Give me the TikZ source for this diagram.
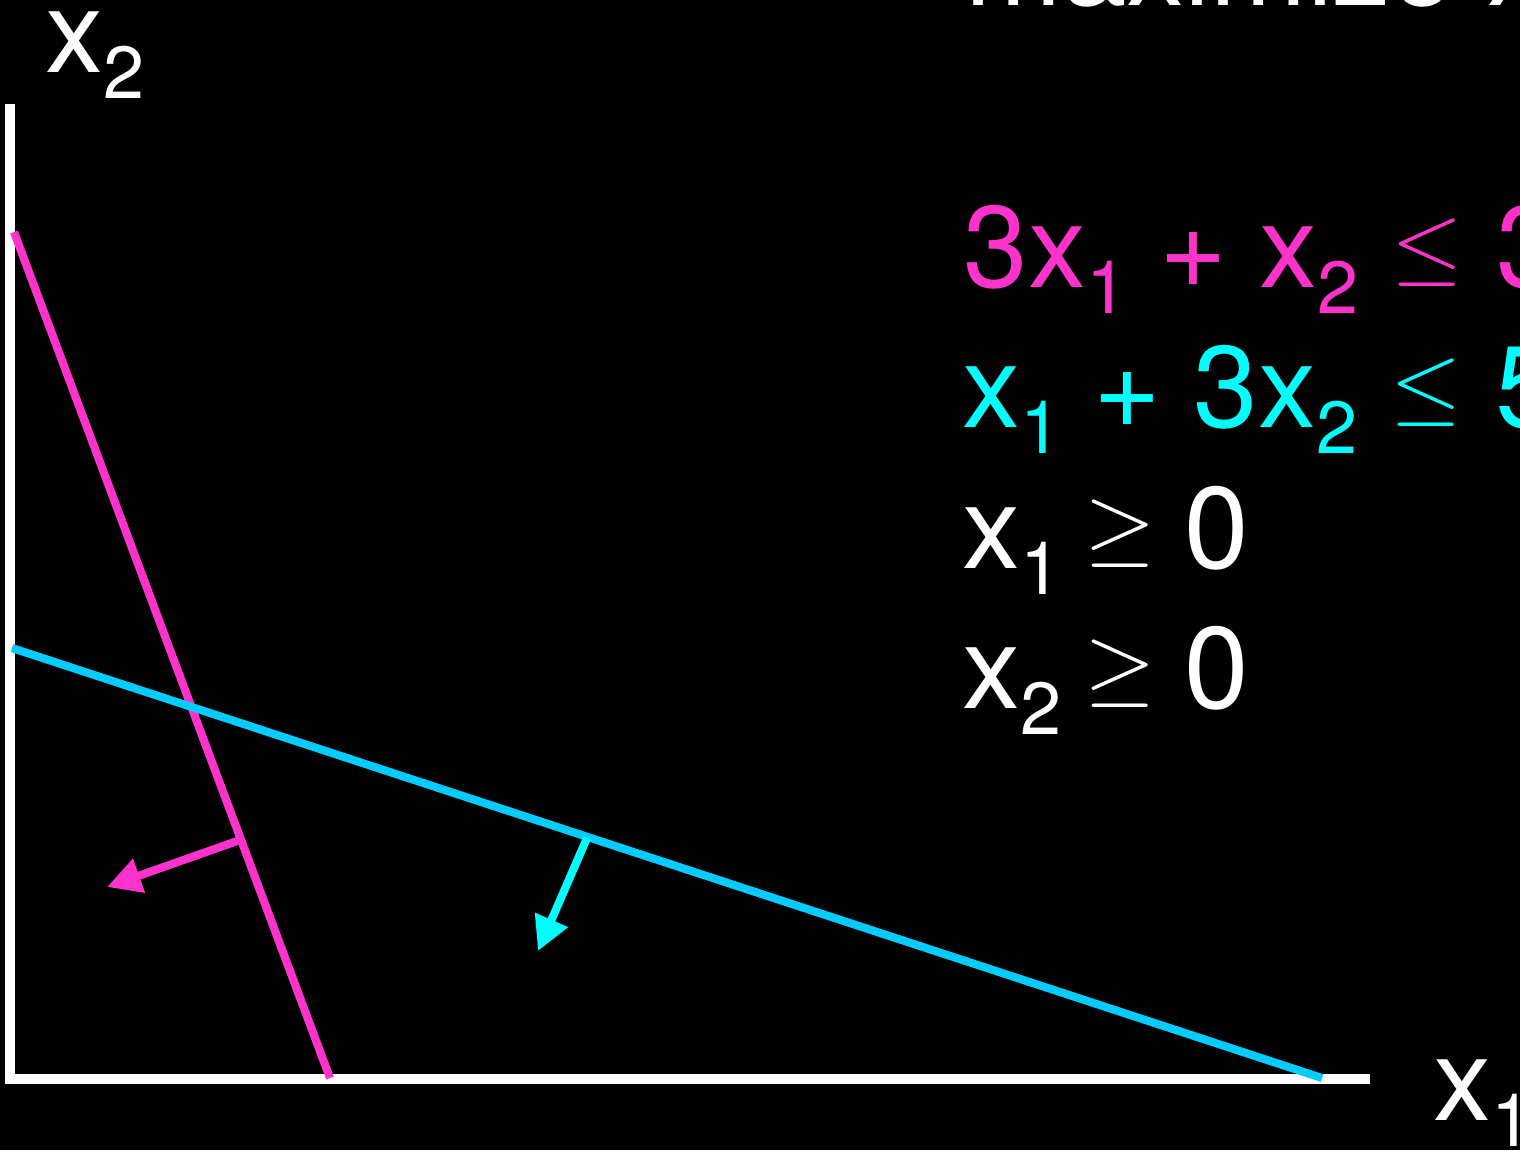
\documentclass[tikz,border=0pt]{standalone}
\usepackage{fontspec}
\usepackage{graphicx}
\setmainfont{TeX Gyre Heros}
\usetikzlibrary{arrows.meta}
\definecolor{LPpink}{RGB}{255,51,204}
\definecolor{LPcyan}{RGB}{0,255,255}
\definecolor{LPblue}{RGB}{0,204,255}
\newcommand{\sub}[1]{\raisebox{-7.4pt}{\fontsize{21}{21}\selectfont #1}}
\newcommand{\rel}[2][0pt]{\hspace{\dimexpr6.5pt+#1\relax}\raisebox{3.55pt}{\scalebox{1.05}[1]{\fontsize{33}{35}\selectfont$#2$}}\hspace{\dimexpr8pt+#1/2\relax}}

\begin{document}
\begin{tikzpicture}[x=0.1mm,y=-0.1mm, every node/.style={font=\fontsize{33}{40}\selectfont,inner sep=0pt,anchor=base west},
axis/.style={draw=white,line width=2.6pt},
bound/.style={line width=2.3pt},
push/.style={-{Triangle[length=3.4mm,width=3.4mm]},line width=2.3pt}]
\fill[black] (0,0) rectangle (1520,1150);
\useasboundingbox (0,0) rectangle (1520,1150);
% axes
\coordinate (origin) at (10,1079);
\coordinate (x2top) at (10,104);
\coordinate (x1end) at (1370,1079);
\draw[axis] (x2top) -- (origin) -- (x1end);
\node[white] (x2lab) at (45,72) {x\sub{2}};
\node[white] (x1lab) at (1433,1120) {x\sub{1}};
% constraint lines
\coordinate (pinkA) at (14,232);
\coordinate (pinkB) at (330,1078);
\coordinate (blueA) at (12,648);
\coordinate (blueB) at (1322,1078);
\draw[bound,LPpink] (pinkA) -- (pinkB);
\draw[bound,LPblue] (blueA) -- (blueB);
% feasible side
\coordinate (pinkfoot) at (240,840);
\coordinate (pinktip) at (107,887);
\coordinate (bluefoot) at (587,838);
\coordinate (bluetip) at (538,951);
\draw[push,LPpink] (pinkfoot) -- (pinktip);
\draw[push,LPcyan] (bluefoot) -- (bluetip);
% problem text
\node[white] (objective) at (965,5) {maximize x\sub{1} + x\sub{2}};
\node[LPpink] (cons1) at (963,287) {3x\sub{1} + x\sub{2}\rel[3pt]{\leq}3};
\node[LPcyan] (cons2) at (962,427) {x\sub{1} + 3x\sub{2}\rel[3pt]{\leq}5};
\node[white] (cons3) at (962,568) {x\sub{1}\rel{\geq}0};
\node[white] (cons4) at (962,708) {x\sub{2}\rel{\geq}0};
\end{tikzpicture}
\end{document}
